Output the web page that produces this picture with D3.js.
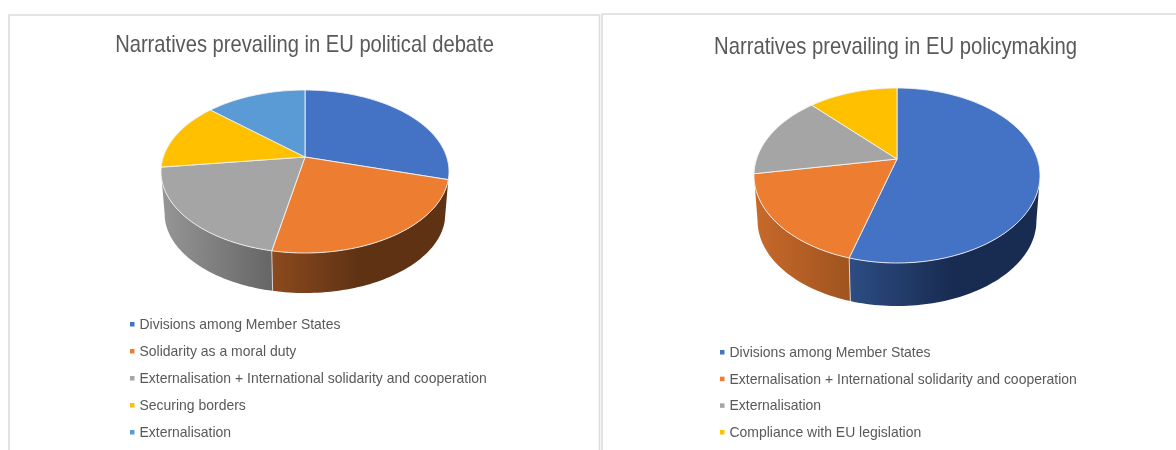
<!DOCTYPE html>
<html>
<head>
<meta charset="utf-8">
<script src="https://cdn.jsdelivr.net/npm/d3@7"></script>
<style>
  html, body { margin: 0; padding: 0; background: #fff; overflow: hidden; }
  svg { display: block; font-family: "Liberation Sans", sans-serif; filter: blur(0.35px); }
</style>
</head>
<body>
<div id="graph"></div>
<script>
// values are percentages
const debateTitle = "Narratives prevailing in EU political debate";
const debateLabels = [
  "Divisions among Member States",
  "Solidarity as a moral duty",
  "Externalisation + International solidarity and cooperation",
  "Securing borders",
  "Externalisation"
];
const debateValues = [29.4, 23.7, 19.9, 13.6, 13.4];

const policyTitle = "Narratives prevailing in EU policymaking";
const policyLabels = [
  "Divisions among Member States",
  "Externalisation + International solidarity and cooperation",
  "Externalisation",
  "Compliance with EU legislation"
];
const policyValues = [54.5, 17.8, 15.6, 12.1];

const sliceColors = ["#4472C4", "#ED7D31", "#A5A5A5", "#FFC000", "#5B9BD5"];

const width = 1176;
const height = 450;

const svg = d3
  .select("#graph")
  .append("svg")
  .attr("width", width)
  .attr("height", height)
  .attr("viewBox", [0, 0, width, height]);

const defs = svg.append("defs");

// panel frames, the bottom is cut off by the picture
svg
  .append("path")
  .attr("d", "M9,450V15H599.5V450")
  .attr("fill", "none")
  .attr("stroke", "#dcdcdc")
  .attr("stroke-width", 1.6);
svg
  .append("path")
  .attr("d", "M602,450V14H1176")
  .attr("fill", "none")
  .attr("stroke", "#dcdcdc")
  .attr("stroke-width", 1.6);

function fitText(text, stretch) {
  text
    .attr("textLength", function () {
      return this.getComputedTextLength() * stretch;
    })
    .attr("lengthAdjust", "spacingAndGlyphs");
}

function drawPie(opts) {
  const g = svg.append("g");
  const color = d3.scaleOrdinal().domain(opts.labels).range(sliceColors);

  // a tilted circle: near side is bigger, so the apex sits above the ellipse centre
  const top = opts.apexY - opts.top;
  const bottom = opts.bottom - opts.apexY;
  const k = (bottom - top) / (bottom + top);
  const ry = top * (1 + k);
  const rx = opts.rx * Math.sqrt(1 - k * k);

  function project(a, lower) {
    const w = 1 + k * Math.cos(a);
    const s = lower ? opts.wallScale : 1;
    return [
      opts.cx + (s * rx * Math.sin(a)) / w,
      opts.apexY + (lower ? opts.wallDrop : 0) - (s * ry * Math.cos(a)) / w
    ];
  }

  function edge(a0, a1, lower) {
    const n = Math.max(2, Math.ceil(Math.abs(a1 - a0) * 40));
    return d3.range(n + 1).map((i) => project(a0 + ((a1 - a0) * i) / n, lower));
  }

  const line = d3.line();
  const arcs = d3
    .pie()
    .sort(null)
    .value((d) => d.value)(
    opts.values.map((value, i) => ({ value, label: opts.labels[i] }))
  );

  // only the front of the cylinder can be seen
  const frontStart = Math.acos(-k);
  const frontEnd = 2 * Math.PI - frontStart;

  // slivers right at the silhouette do not show in the reference
  const walls = arcs
    .map((d) => ({
      d,
      a0: Math.max(d.startAngle, frontStart),
      a1: Math.min(d.endAngle, frontEnd)
    }))
    .filter((w) => w.a1 - w.a0 > 0.15);

  walls.forEach((w, i) => {
    const shade = opts.wallShades[w.d.data.label];
    const id = `${opts.id}-wall-${i}`;
    const x0 = project(w.a1, false)[0];
    const x1 = x0 + (project(w.a0, false)[0] - x0) * shade.reach;
    const grad = defs
      .append("linearGradient")
      .attr("id", id)
      .attr("gradientUnits", "userSpaceOnUse")
      .attr("x1", x0)
      .attr("x2", x1)
      .attr("y1", 0)
      .attr("y2", 0);
    grad.append("stop").attr("offset", 0).attr("stop-color", shade.from);
    grad.append("stop").attr("offset", 1).attr("stop-color", shade.to);
    w.fill = `url(#${id})`;
  });

  g.selectAll("path.wall")
    .data(walls)
    .join("path")
    .attr("class", "wall")
    .attr("fill", (w) => w.fill)
    .attr(
      "d",
      (w) =>
        line(edge(w.a0, w.a1, false).concat(edge(w.a1, w.a0, true))) + "Z"
    );

  // light seams where a slice edge runs down the wall
  g.selectAll("path.seam")
    .data(walls.slice(1))
    .join("path")
    .attr("class", "seam")
    .attr("fill", "none")
    .attr("stroke", "#e8e8e8")
    .attr("stroke-width", 0.8)
    .attr("d", (w) => line([project(w.a0, false), project(w.a0, true)]));

  g.selectAll("path.slice")
    .data(arcs)
    .join("path")
    .attr("class", "slice")
    .attr("fill", (d) => color(d.data.label))
    .attr("stroke", "#f2f2f2")
    .attr("stroke-width", 0.9)
    .attr("stroke-linejoin", "round")
    .attr(
      "d",
      (d) =>
        line([[opts.cx, opts.apexY]].concat(edge(d.startAngle, d.endAngle, false))) + "Z"
    );

  g.append("text")
    .attr("x", opts.titleX)
    .attr("y", opts.titleY)
    .attr("text-anchor", "middle")
    .attr("font-size", 24)
    .attr("fill", "#595959")
    .text(opts.title)
    .call(fitText, opts.titleStretch);

  const rowY = d3
    .scalePoint()
    .domain(opts.labels)
    .range(opts.legendY);

  const row = g
    .selectAll("g.row")
    .data(opts.labels)
    .join("g")
    .attr("class", "row")
    .attr("transform", (d) => `translate(${opts.legendX},${rowY(d)})`);

  row
    .append("rect")
    .attr("x", 0)
    .attr("y", -2.5)
    .attr("width", 4.5)
    .attr("height", 4.5)
    .attr("fill", (d) => color(d));

  row
    .append("text")
    .attr("x", 9.5)
    .attr("y", 4.5)
    .attr("font-size", 14.5)
    .attr("fill", "#595959")
    .text((d) => d)
    .call(fitText, opts.legendStretch);
}

drawPie({
  id: "debate",
  title: debateTitle,
  labels: debateLabels,
  values: debateValues,
  cx: 305,
  apexY: 157,
  top: 90,
  bottom: 253,
  rx: 144,
  wallScale: 0.975,
  wallDrop: 42.4,
  titleX: 304.5,
  titleY: 51.5,
  titleStretch: 0.84,
  legendX: 130,
  legendY: [324.5, 432.5],
  legendStretch: 0.963,
  wallShades: {
    "Solidarity as a moral duty": { from: "#8b4a1e", to: "#5f3214", reach: 0.5 },
    "Externalisation + International solidarity and cooperation": { from: "#969696", to: "#666666", reach: 1 }
  }
});

drawPie({
  id: "policy",
  title: policyTitle,
  labels: policyLabels,
  values: policyValues,
  cx: 897,
  apexY: 159,
  top: 88,
  bottom: 263,
  rx: 143,
  wallScale: 0.975,
  wallDrop: 45.6,
  titleX: 895.5,
  titleY: 54,
  titleStretch: 0.845,
  legendX: 720,
  legendY: [352.5, 432.5],
  legendStretch: 0.963,
  wallShades: {
    "Divisions among Member States": { from: "#2d4d84", to: "#182b50", reach: 0.55 },
    "Externalisation + International solidarity and cooperation": { from: "#c8692b", to: "#a0541f", reach: 1 }
  }
});
</script>
</body>
</html>
